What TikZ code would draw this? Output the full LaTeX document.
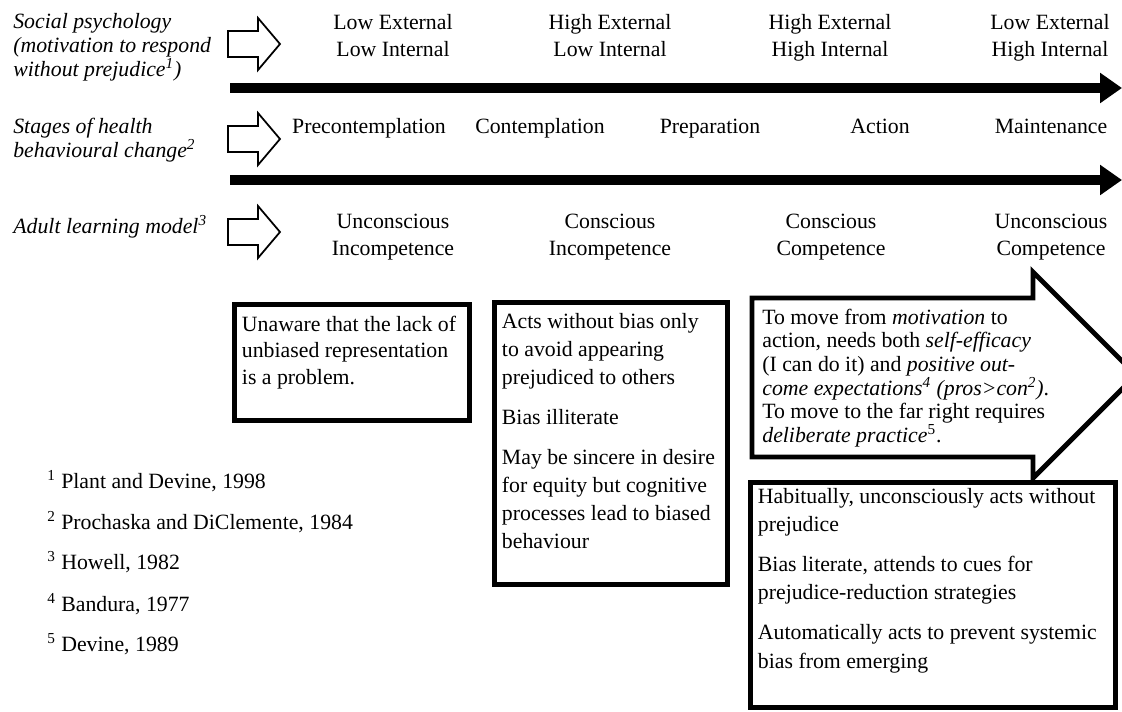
\documentclass[tikz,border=0pt]{standalone}
\usepackage{fontspec}
\setmainfont{Liberation Serif}
\usepackage{tikz}
\usetikzlibrary{arrows.meta}
\tikzstyle{Label}=[inner sep=0pt,align=left,font=\fontsize{12.4}{13.6}\selectfont\itshape]
\tikzstyle{Stage}=[inner sep=0pt,align=center,font=\fontsize{12.4}{15.3}\selectfont]
\tikzstyle{BarArrow}=[line width=5.7pt,-{Triangle[length=12.5pt,width=16.5pt]}]
\tikzstyle{Hollow}=[line width=1pt,line join=miter]
\tikzstyle{TextBox}=[draw,line width=2.8pt,inner xsep=0.15cm,anchor=north west,
font=\fontsize{12.4}{16}\selectfont]
\tikzstyle{Note}=[inner sep=0pt,anchor=base west,font=\fontsize{12.4}{15}\selectfont]
\tikzset{HollowArrow/.pic={\draw[Hollow](0,-13)--(30,-13)--(30,-26)--(52,0)--(30,26)--(30,13)--(0,13)--cycle;}}
\newcommand{\BoxText}[3]{\parbox[t][#2][t]{#1}{\raggedright #3}}
\newcommand{\Gap}{\par\vspace{6.8pt}}

\begin{document}
\begin{tikzpicture}[x=0.02cm,y=-0.02cm]
        \clip(0,0)rectangle(1122,711);
        % three models
        \node[Label,anchor=west](social)at(13,47){Social psychology\\(motivation to respond\\without prejudice\textsuperscript{1})};
        \node[Label,anchor=west](stages)at(13,140){Stages of health\\behavioural change\textsuperscript{2}};
        \node[Label,anchor=base west](adult)at(13,233){Adult learning model\textsuperscript{3}};
        \pic at(228,44){HollowArrow};
        \pic at(228,139){HollowArrow};
        \pic at(228,232){HollowArrow};
        % motivation
        \node[Stage,anchor=north](motA)at(393,14){Low External\\Low Internal};
        \node[Stage,anchor=north](motB)at(610,14){High External\\Low Internal};
        \node[Stage,anchor=north](motC)at(830,14){High External\\High Internal};
        \node[Stage,anchor=north](motD)at(1050,14){Low External\\High Internal};
        \coordinate(barAs)at(230,88);
        \coordinate(barAe)at(1122,88);
        \draw[BarArrow](barAs)--(barAe);
        % stages
        \node[Stage,anchor=base](stA)at(369,133){Precontemplation};
        \node[Stage,anchor=base](stB)at(540,133){Contemplation};
        \node[Stage,anchor=base](stC)at(710,133){Preparation};
        \node[Stage,anchor=base](stD)at(880,133){Action};
        \node[Stage,anchor=base](stE)at(1051,133){Maintenance};
        \coordinate(barBs)at(230,180);
        \coordinate(barBe)at(1122,180);
        \draw[BarArrow](barBs)--(barBe);
        % learning
        \node[Stage](lnA)at(393,237){Unconscious\\Incompetence};
        \node[Stage](lnB)at(610,237){Conscious\\Incompetence};
        \node[Stage](lnC)at(831,237){Conscious\\Competence};
        \node[Stage](lnD)at(1051,237){Unconscious\\Competence};
        % boxes
        \node[TextBox,inner ysep=0.23cm,font=\fontsize{12.4}{15}\selectfont](boxA)at(232,302){\BoxText{4.4cm}{1.86cm}{Unaware that the lack of\\
        unbiased representation\\ is a problem.}};
        \node[TextBox,inner ysep=0.21cm](boxB)at(492,300){\BoxText{4.36cm}{5.22cm}{Acts without bias only\\ to avoid appearing\\ prejudiced to others\Gap
        Bias illiterate\Gap
        May be sincere in desire\\ for equity but cognitive\\ processes lead to biased\\ behaviour}};
        \draw[Hollow,line width=2.8pt](752,298)--(1033,298)--(1033,272)--(1136,375)--(1033,478)--(1033,457)--(752,457)--cycle;
        \node[inner sep=0pt,anchor=base west,font=\fontsize{12.4}{13.5}\selectfont](move)at(762,324){\parbox[t]{6cm}{\raggedright
        To move from \emph{motivation} to\\ action, needs both \emph{self-efficacy}\\ (I can do it) and \emph{positive out-}\\
        \emph{come expectations\textsuperscript{4} (pros>con\textsuperscript{2})}.\\ To move to the far right requires\\
        \emph{deliberate practice}\textsuperscript{5}.}};
        \node[TextBox,inner ysep=0.12cm](boxC)at(748,480){\BoxText{7cm}{4.26cm}{Habitually, unconsciously acts without\\ prejudice\Gap
        Bias literate, attends to cues for\\ prejudice-reduction strategies\Gap
        Automatically acts to prevent systemic\\ bias from emerging}};
        % references
        \node[Note](refA)at(47,488){\textsuperscript{1} Plant and Devine, 1998};
        \node[Note](refB)at(47,529){\textsuperscript{2} Prochaska and DiClemente, 1984};
        \node[Note](refC)at(47,569){\textsuperscript{3} Howell, 1982};
        \node[Note](refD)at(47,611){\textsuperscript{4} Bandura, 1977};
        \node[Note](refE)at(47,651){\textsuperscript{5} Devine, 1989};
    \end{tikzpicture}
\end{document}
